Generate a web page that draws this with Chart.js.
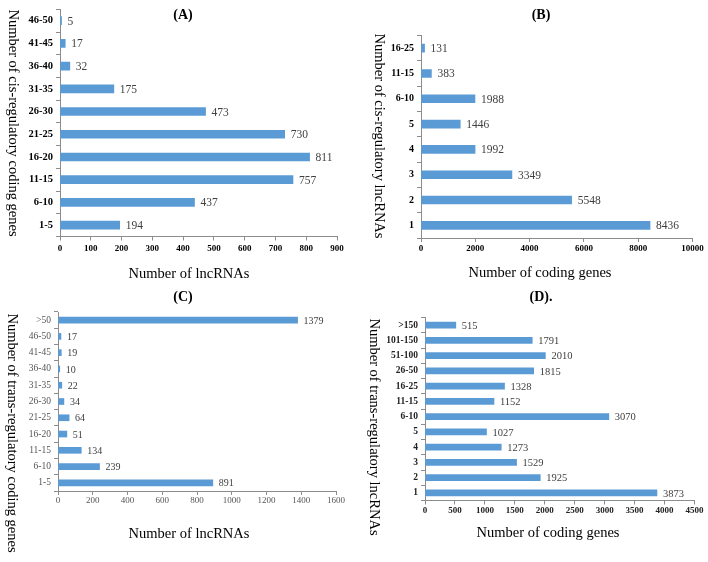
<!DOCTYPE html>
<html>
<head>
<meta charset="utf-8">
<script src="https://cdn.jsdelivr.net/npm/chart.js@4.4.1/dist/chart.umd.min.js"></script>
<style>
  body { margin: 0; background: #fff; }
  #wrap { position: relative; width: 708px; height: 562px; }
  canvas { position: absolute; }
</style>
</head>
<body>
<div id="wrap">
  <canvas id="chartA" width="354" height="281" style="left:0;top:0"></canvas>
  <canvas id="chartB" width="354" height="281" style="left:354px;top:0"></canvas>
  <canvas id="chartC" width="354" height="281" style="left:0;top:281px"></canvas>
  <canvas id="chartD" width="354" height="281" style="left:354px;top:281px"></canvas>
</div>
<script>
// (A) lncRNAs by number of cis-regulatory coding genes
const cisGeneBins = ['1-5', '6-10', '11-15', '16-20', '21-25', '26-30', '31-35', '36-40', '41-45', '46-50'];
const cisGeneCounts = [194, 437, 757, 811, 730, 473, 175, 32, 17, 5];

// (B) coding genes by number of cis-regulatory lncRNAs
const cisLncBins = ['1', '2', '3', '4', '5', '6-10', '11-15', '16-25'];
const cisLncCounts = [8436, 5548, 3349, 1992, 1446, 1988, 383, 131];

// (C) lncRNAs by number of trans-regulatory coding genes
const transGeneBins = ['1-5', '6-10', '11-15', '16-20', '21-25', '26-30', '31-35', '36-40', '41-45', '46-50', '>50'];
const transGeneCounts = [891, 239, 134, 51, 64, 34, 22, 10, 19, 17, 1379];

// (D) coding genes by number of trans-regulatory lncRNAs
const transLncBins = ['1', '2', '3', '4', '5', '6-10', '11-15', '16-25', '26-50', '51-100', '101-150', '>150'];
const transLncCounts = [3873, 1925, 1529, 1273, 1027, 3070, 1152, 1328, 1815, 2010, 1791, 515];

// x axis ranges
const xMaxA = 900, xStepA = 100;
const xMaxB = 10000, xStepB = 2000;
const xMaxC = 1600, xStepC = 200;
const xMaxD = 4500, xStepD = 500;

const SERIF = '"Liberation Serif", "Times New Roman", serif';
const BAR_BLUE = '#5b9bd5';
const AXIS_GREY = '#8c8c8c';

// panel letter + axis titles (y title reads top to bottom)
const panelText = {
    id: 'panelText',
    afterDraw(chart, args, o) {
        const ctx = chart.ctx;
        ctx.save();
        ctx.fillStyle = '#000';
        ctx.textAlign = 'center';
        ctx.textBaseline = 'middle';
        ctx.font = 'bold 14px ' + SERIF;
        ctx.fillText(o.label, o.labelX, o.labelY);
        ctx.font = '14.5px ' + SERIF;
        ctx.fillText(o.xTitle, o.xTitleX, o.xTitleY);
        ctx.translate(o.yTitleX, o.yTitleY);
        ctx.rotate(Math.PI / 2);
        ctx.fillText(o.yTitle, 0, 0);
        ctx.restore();
    }
};

// value printed after each bar
const valueLabels = {
    id: 'valueLabels',
    afterDatasetsDraw(chart, args, o) {
        const ctx = chart.ctx;
        const meta = chart.getDatasetMeta(0);
        const values = chart.data.datasets[0].data;
        ctx.save();
        ctx.font = o.size + 'px ' + SERIF;
        ctx.fillStyle = o.color;
        ctx.textAlign = 'left';
        ctx.textBaseline = 'middle';
        meta.data.forEach((bar, i) => {
            ctx.fillText(String(values[i]), bar.x + o.gap, bar.y + 1);
        });
        ctx.restore();
    }
};

function makeChart(id, bins, counts, p) {
    return new Chart(document.getElementById(id), {
        type: 'bar',
        data: {
            labels: bins,
            datasets: [{
                data: counts,
                backgroundColor: BAR_BLUE,
                barThickness: p.barThickness
            }]
        },
        options: {
            indexAxis: 'y',
            responsive: false,
            animation: false,
            devicePixelRatio: 1,
            layout: {
                padding: { left: 0, top: p.top, right: 354 - p.right, bottom: 0 }
            },
            plugins: {
                legend: { display: false },
                tooltip: { enabled: false },
                panelText: p.text,
                valueLabels: { size: p.valueSize, color: '#404040', gap: 6 }
            },
            scales: {
                x: {
                    min: 0,
                    max: p.xMax,
                    ticks: {
                        stepSize: p.xStep,
                        autoSkip: false,
                        maxRotation: 0,
                        padding: p.xTickPad,
                        color: p.xTickColor,
                        font: { family: SERIF, size: 9, weight: p.xTickWeight },
                        callback: v => String(v)
                    },
                    grid: { drawOnChartArea: false, tickLength: 4, color: AXIS_GREY },
                    border: { color: AXIS_GREY },
                    afterFit: s => { s.height = 281 - p.bottom; }
                },
                y: {
                    reverse: true,
                    ticks: {
                        padding: 3,
                        color: p.yTickColor,
                        font: { family: SERIF, size: p.yTickSize, weight: p.yTickWeight }
                    },
                    grid: { drawOnChartArea: false, tickLength: 4, color: AXIS_GREY, offset: true },
                    border: { color: AXIS_GREY },
                    afterFit: s => { s.width = p.left; }
                }
            }
        },
        plugins: [panelText, valueLabels]
    });
}

window.onload = function() {
    makeChart('chartA', cisGeneBins, cisGeneCounts, {
        left: 60, right: 337, top: 4.5, bottom: 236.5, barThickness: 8,
        xMax: xMaxA, xStep: xStepA, xTickColor: '#000', xTickWeight: 'bold', xTickPad: 3,
        yTickColor: '#000', yTickWeight: 'bold', yTickSize: 10.5, valueSize: 11.5,
        text: { label: '(A)', labelX: 183, labelY: 15,
                xTitle: 'Number of lncRNAs', xTitleX: 189, xTitleY: 274,
                yTitle: 'Number of cis-regulatory coding genes', yTitleX: 13, yTitleY: 123 }
    });
    makeChart('chartB', cisLncBins, cisLncCounts, {
        left: 67, right: 338.5, top: 35.5, bottom: 238, barThickness: 8,
        xMax: xMaxB, xStep: xStepB, xTickColor: '#000', xTickWeight: 'bold', xTickPad: 1,
        yTickColor: '#000', yTickWeight: 'bold', yTickSize: 10, valueSize: 11.5,
        text: { label: '(B)', labelX: 187, labelY: 15,
                xTitle: 'Number of coding genes', xTitleX: 186, xTitleY: 273,
                yTitle: 'Number of cis-regulatory lncRNAs', yTitleX: 25, yTitleY: 136 }
    });
    makeChart('chartC', transGeneBins, transGeneCounts, {
        left: 58, right: 336, top: 31, bottom: 210, barThickness: 6,
        xMax: xMaxC, xStep: xStepC, xTickColor: '#555', xTickWeight: 'normal', xTickPad: 0,
        yTickColor: '#555', yTickWeight: 'normal', yTickSize: 9.5, valueSize: 10,
        text: { label: '(C)', labelX: 183, labelY: 16,
                xTitle: 'Number of lncRNAs', xTitleX: 189, xTitleY: 253,
                yTitle: 'Number of trans-regulatory coding genes', yTitleX: 12, yTitleY: 152 }
    });
    makeChart('chartD', transLncBins, transLncCounts, {
        left: 71, right: 340.5, top: 36.5, bottom: 219.5, barThickness: 6,
        xMax: xMaxD, xStep: xStepD, xTickColor: '#222', xTickWeight: 'bold', xTickPad: 1,
        yTickColor: '#222', yTickWeight: 'bold', yTickSize: 9.5, valueSize: 10.5,
        text: { label: '(D).', labelX: 187, labelY: 16,
                xTitle: 'Number of coding genes', xTitleX: 194, xTitleY: 252,
                yTitle: 'Number of trans-regulatory lncRNAs', yTitleX: 20, yTitleY: 146 }
    });
};
</script>
</body>
</html>
